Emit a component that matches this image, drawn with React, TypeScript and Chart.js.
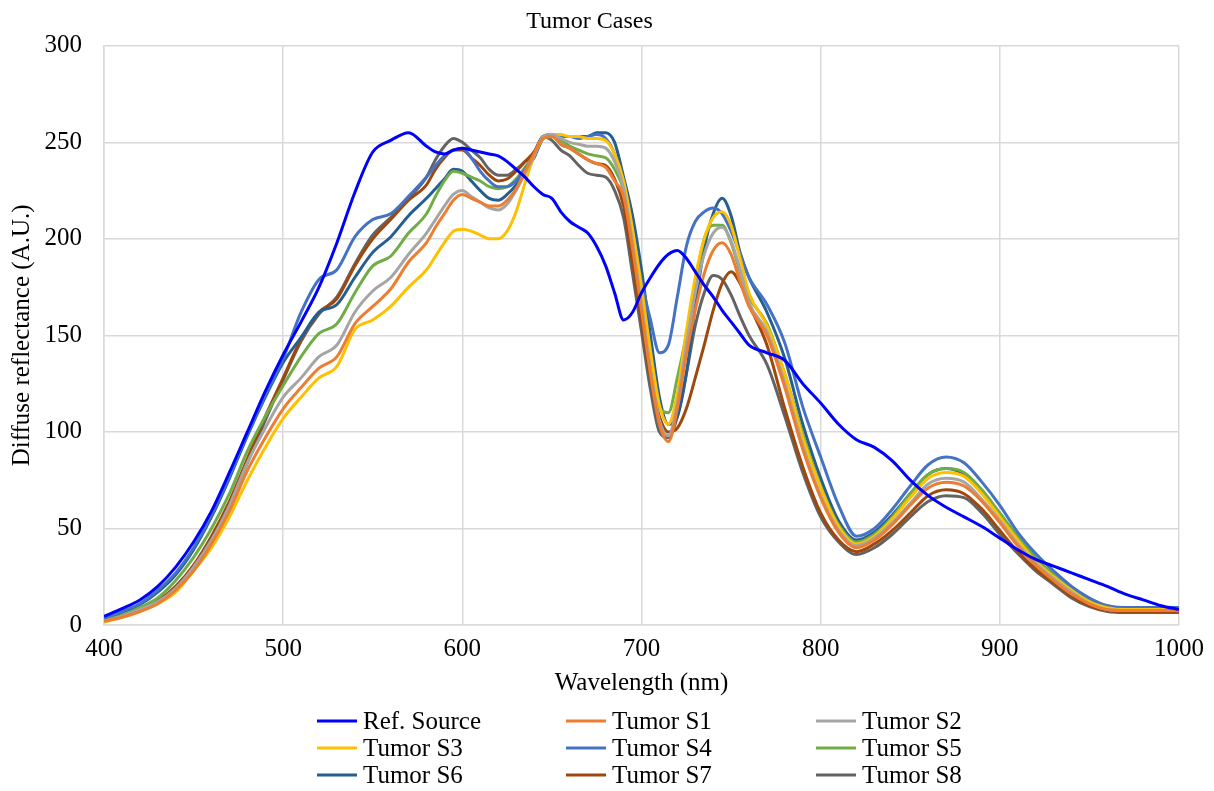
import React, { useEffect, useRef } from "react";
import { Chart, registerables } from "chart.js";

Chart.register(...registerables);

// Wavelength grid (nm): 10 nm steps, 5 nm steps across the 580–760 nm features
const wavelengths = [
  400, 410, 420, 430, 440, 450, 460, 470, 480, 490, 500, 510, 520, 530, 540, 550, 560, 570,
  580, 585, 590, 595, 600, 605, 610, 615, 620, 625, 630, 635, 640,
  645, 650, 655, 660, 665, 670, 675, 680, 685, 690, 695, 700, 705, 710, 715, 720, 725, 730, 735, 740, 745, 750, 755, 760,
  770, 780, 790, 800, 810, 820, 830, 840, 850, 860, 870, 880, 890, 900, 910, 920, 930, 940, 950, 960, 970, 980, 990, 1000,
];

const refSource = [
  4.5, 8.5, 13, 20, 30, 43, 59, 79, 100, 121, 140, 157, 175, 198, 224, 245, 251, 255,
  248, 245, 244, 246, 247, 246, 245, 244, 243, 240, 236, 232, 227,
  223, 221, 214, 209, 206, 203, 196, 186, 172, 158, 162, 172, 180, 187, 192, 194, 190, 183, 176, 170, 163, 157, 151, 145,
  141, 137, 125, 115, 104, 96, 92, 85, 75, 67, 61, 56, 51, 45, 39, 34, 30.5, 27, 23.5, 20, 16, 13, 10, 8,
];

const tumorS1 = [
  2, 4, 7, 11, 18, 28, 42, 59, 80, 97, 112, 123, 133, 139, 156, 165, 174, 188,
  198, 206, 213, 220, 223, 221, 219, 217, 217, 220, 226, 235, 244,
  252, 253, 249, 247, 244, 241, 239, 237, 230, 222, 195, 163, 130, 104, 95, 112, 140, 163, 182, 194, 198, 192, 178, 165,
  150, 123, 91, 66, 48, 40, 44, 52, 62, 71, 74, 72, 64, 53, 41, 31, 23, 16, 11, 8, 7.5, 7.5, 7.5, 7.5,
];

const tumorS2 = [
  2, 4.5, 8, 12, 19, 30, 44, 62, 84, 102, 118, 128, 139, 145, 162, 173, 180, 192,
  203, 210, 217, 223, 225, 222, 219, 216, 215, 218, 225, 234, 243,
  253, 254, 252, 250, 249, 248, 248, 247, 240, 226, 198, 166, 132, 106, 98, 115, 145, 172, 192, 203, 206, 199, 184, 167,
  152, 125, 93, 67, 49, 41, 45, 53, 63, 73, 76, 74, 65, 54, 42, 32, 24, 17, 11, 8, 7.5, 7.5, 7.5, 7.5,
];

const tumorS3 = [
  1.5, 4, 7, 11, 17, 28, 40, 56, 75, 92, 107, 118, 128, 134, 153, 158, 165, 175,
  184, 191, 198, 204, 205, 204, 202, 200, 200, 204, 214, 229, 243,
  252, 254, 254, 253, 253, 252, 252, 251, 244, 230, 205, 175, 142, 114, 104, 120, 152, 180, 200, 211, 214, 207, 190, 172,
  155, 130, 97, 71, 51, 42, 46, 55, 66, 76, 79, 77, 68, 56, 44, 33, 25, 18, 12, 9, 8, 8, 8, 8,
];

const tumorS4 = [
  3.5, 7, 11, 18, 27, 40, 57, 77, 99, 119, 138, 162, 179, 184, 201, 210, 213, 222,
  232, 238, 243, 246, 247, 242, 235, 230, 227, 227, 230, 236, 243,
  252, 254, 253, 253, 252, 253, 254, 252, 244, 228, 203, 178, 158, 141, 145, 170, 196, 209, 214, 216, 213, 204, 192, 180,
  166, 146, 113, 87, 62, 46, 50, 60, 72, 83, 87, 84, 74, 62, 48, 37, 28, 20, 14, 10, 9, 9, 9, 9,
];

const tumorS5 = [
  2.5, 5, 9, 14, 23, 35, 50, 68, 90, 108, 124, 139, 151, 156, 172, 186, 191, 203,
  213, 222, 230, 235, 234, 232, 230, 227, 226, 227, 231, 237, 243,
  252, 253, 251, 248, 246, 244, 243, 242, 236, 225, 198, 168, 138, 112, 110, 128, 150, 177, 200, 207, 207, 198, 183, 170,
  156, 130, 99, 72, 52, 43, 47, 56, 68, 78, 81, 79, 70, 58, 46, 35, 26, 19, 13, 10, 9, 9, 9, 9,
];

const tumorS6 = [
  3, 6.5, 10.5, 17, 26, 39, 56, 76, 98, 118, 136, 149, 162, 166, 180, 193, 201, 212,
  221, 226, 231, 236, 235, 230, 225, 221, 220, 223, 228, 235, 242,
  252, 254, 253, 253, 253, 253, 255, 255, 250, 232, 212, 184, 150, 118, 104, 108, 130, 165, 195, 213, 221, 212, 193, 180,
  162, 138, 104, 76, 54, 44, 48, 57, 68, 78, 81, 78, 69, 57, 45, 34, 26, 18, 12, 9, 8.5, 8.5, 8.5, 8,
];

const tumorS7 = [
  2, 4.5, 8, 12.5, 20, 31, 46, 64, 86, 108, 128, 148, 162, 169, 186, 200, 210, 220,
  228, 236, 242, 246, 246, 242, 238, 233, 230, 231, 235, 240, 245,
  253, 254, 249, 247, 244, 241, 239, 238, 231, 217, 188, 158, 128, 108, 100, 102, 112, 128, 145, 163, 177, 183, 177, 166,
  145, 112, 82, 58, 44, 38, 42, 49, 58, 67, 70, 68, 60, 49, 38, 29, 22, 15, 10, 7.5, 7, 7, 7, 7,
];

const tumorS8 = [
  2, 4.5, 8, 12, 19, 30, 44, 62, 84, 106, 127, 147, 161, 170, 187, 202, 211, 221,
  232, 241, 248, 252, 250, 246, 242, 236, 233, 233, 236, 240, 244,
  253, 251, 246, 243, 238, 234, 233, 232, 225, 211, 182, 152, 122, 100, 97, 108, 130, 155, 172, 181, 179, 171, 160, 150,
  135, 108, 79, 56, 43, 36.5, 40, 47, 56, 64, 67, 66, 58, 47, 37, 28, 21, 14, 9.5, 7, 6.5, 6.5, 6.5, 6.5,
];

const seriesNames = [
  "Ref. Source", "Tumor S1", "Tumor S2", "Tumor S3", "Tumor S4",
  "Tumor S5", "Tumor S6", "Tumor S7", "Tumor S8",
];
const seriesValues = [
  refSource, tumorS1, tumorS2, tumorS3, tumorS4, tumorS5, tumorS6, tumorS7, tumorS8,
];
const seriesColors = [
  "#0000FF", "#ED7D31", "#A5A5A5", "#FFC000", "#4472C4",
  "#70AD47", "#255E91", "#9E480E", "#636363",
];

const FONT = "'Liberation Serif', 'Times New Roman', serif";
const TEXT_COLOR = "#000000";
const GRID_COLOR = "#d9d9d9";

// Three-column legend drawn under the x-axis title
const gridLegend = {
  id: "gridLegend",
  afterDraw(chart: any) {
    const { ctx } = chart;
    const columns = [317, 566, 816];
    const rows = [721, 748, 775];
    ctx.save();
    ctx.font = `25px ${FONT}`;
    ctx.textBaseline = "middle";
    ctx.textAlign = "left";
    chart.data.datasets.forEach((ds: any, i: number) => {
      const x = columns[i % 3];
      const y = rows[Math.floor(i / 3)];
      ctx.strokeStyle = ds.borderColor;
      ctx.lineWidth = 3;
      ctx.beginPath();
      ctx.moveTo(x, y);
      ctx.lineTo(x + 40, y);
      ctx.stroke();
      ctx.fillStyle = TEXT_COLOR;
      ctx.fillText(ds.label, x + 46, y + 1);
    });
    ctx.restore();
  },
};

export default function App() {
  const canvasRef = useRef<HTMLCanvasElement | null>(null);

  useEffect(() => {
    if (!canvasRef.current) return;
    const datasets = seriesNames.map((name, i) => ({
      label: name,
      data: wavelengths.map((w, j) => ({ x: w, y: seriesValues[i][j] })),
      borderColor: seriesColors[i],
      backgroundColor: seriesColors[i],
      borderWidth: 3,
      pointRadius: 0,
      cubicInterpolationMode: "monotone" as const,
      fill: false,
    }));

    const chart = new Chart(canvasRef.current, {
      type: "line",
      data: { datasets },
      plugins: [gridLegend],
      options: {
        animation: false,
        responsive: false,
        layout: { padding: { left: 0, right: 35, top: 0, bottom: 86 } },
        plugins: {
          legend: { display: false },
          tooltip: { enabled: false },
          title: {
            display: true,
            text: "Tumor Cases",
            color: TEXT_COLOR,
            font: { family: FONT, size: 24, weight: "normal" },
            padding: { top: 7, bottom: 10 },
          },
        },
        scales: {
          x: {
            type: "linear",
            min: 400,
            max: 1000,
            afterFit: (scale: any) => {
              scale.height = 80;
            },
            ticks: {
              stepSize: 100,
              color: TEXT_COLOR,
              font: { family: FONT, size: 25 },
              padding: 9,
              maxRotation: 0,
              callback: (value: any) => String(value),
            },
            grid: { color: GRID_COLOR, lineWidth: 1.5, drawTicks: false },
            border: { display: true, color: GRID_COLOR, width: 1.5 },
            title: {
              display: true,
              text: "Wavelength (nm)",
              color: TEXT_COLOR,
              font: { family: FONT, size: 25 },
              padding: { top: 0, bottom: 7 },
            },
          },
          y: {
            min: 0,
            max: 300,
            afterFit: (scale: any) => {
              scale.width = 104;
            },
            ticks: {
              stepSize: 50,
              color: TEXT_COLOR,
              font: { family: FONT, size: 25 },
              padding: 22,
              callback: (value: any) => String(value),
            },
            grid: { color: GRID_COLOR, lineWidth: 1.5, drawTicks: false },
            border: { display: true, color: GRID_COLOR, width: 1.5 },
            title: {
              display: true,
              text: "Diffuse reflectance (A.U.)",
              color: TEXT_COLOR,
              font: { family: FONT, size: 25 },
              padding: { top: 7, bottom: 0 },
            },
          },
        },
      },
    });
    return () => chart.destroy();
  }, []);

  return (
    <div style={{ position: "absolute", left: 0, top: 0, width: 1214, height: 791, background: "#ffffff" }}>
      <canvas ref={canvasRef} width={1214} height={791} />
    </div>
  );
}
